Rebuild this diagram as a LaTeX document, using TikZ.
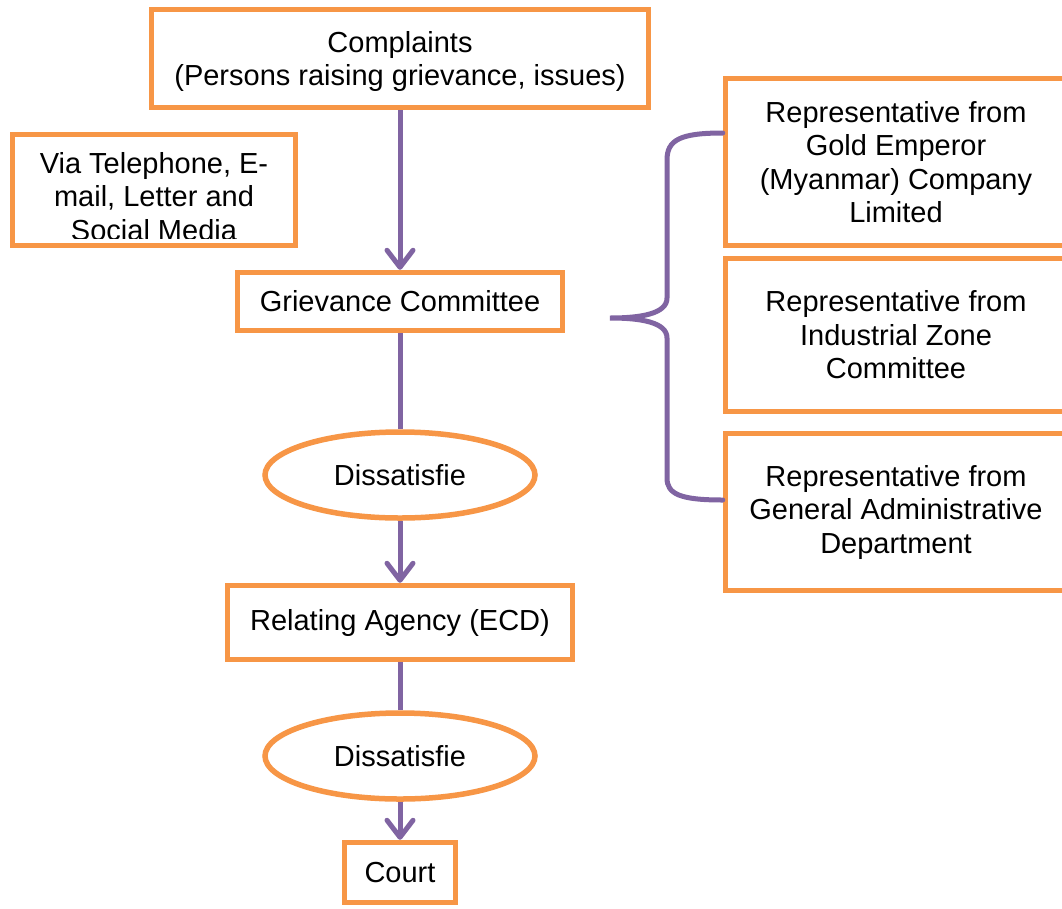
\documentclass[tikz,border=0pt]{standalone}
\usepackage{fontspec}
\setmainfont{Liberation Sans}
\usetikzlibrary{shapes.geometric,arrows.meta}
\definecolor{boxorange}{HTML}{F79646}
\definecolor{linkpurple}{HTML}{8064A2}
\tikzset{
  box/.style={draw=boxorange, line width=5.5pt, fill=white, rectangle,
    inner sep=0pt, align=center, text=black},
  oval/.style={draw=boxorange, line width=5.5pt, fill=white, ellipse,
    inner sep=0pt, align=center, text=black},
  link/.style={draw=linkpurple, line width=5pt},
  flow/.style={link, -{Straight Barb[length=17pt,width=26pt,line cap=round,round]}},
  bracket/.style={draw=linkpurple, line width=5pt, line cap=round},
}
\begin{document}
\begin{tikzpicture}[x=1pt, y=-1pt, font=\fontsize{29}{33.5}\selectfont]
\useasboundingbox (0,0) rectangle (1062,908);
\fill[white] (0,0) rectangle (1062,908);

% main flow, all centred on one vertical
\node[box, minimum width=497pt, minimum height=98pt] (complaints) at (400,58.5)
  {\raisebox{-4pt}[\height][\depth]{\begin{tabular}{@{}c@{}}Complaints\\(Persons raising grievance, issues)\end{tabular}}};
\node[box, minimum width=325pt, minimum height=58pt] (grievance) at (400,301.5)
  {Grievance Committee};
\node[oval, minimum width=270pt, minimum height=86pt] (diss1) at (400,475)
  {Dissatisfie};
\node[box, minimum width=345pt, minimum height=74pt] (agency) at (400,622.5)
  {Relating Agency (ECD)};
\node[oval, minimum width=270pt, minimum height=86pt] (diss2) at (400,756)
  {Dissatisfie};
\node[box, minimum width=111pt, minimum height=60pt] (court) at (400,872.5)
  {Court};

% channels box, text cut off at the lower inner edge
\node[box, minimum width=283pt, minimum height=111pt] (viabox) at (154,190) {};
\begin{scope}
  \clip (14,136) rectangle (294,238);
  \node[align=center, inner sep=0pt, anchor=north] (viatext) at (154,152)
    {Via Telephone, E-\\mail, Letter and\\Social Media};
\end{scope}

% committee members
\node[box, minimum width=341pt, minimum height=167pt] (rep1) at (896,162)
  {Representative from\\Gold Emperor\\(Myanmar) Company\\Limited};
\node[box, minimum width=341pt, minimum height=153pt] (rep2) at (896,335)
  {Representative from\\Industrial Zone\\Committee};
\node[box, minimum width=341pt, minimum height=157pt] (rep3) at (896,512)
  {Representative from\\General Administrative\\Department};

% connectors
\draw[flow] (complaints.south) -- (grievance.north);
\draw[link] (grievance.south) -- (diss1.north);
\draw[flow] (diss1.south) -- (agency.north);
\draw[link] (agency.south) -- (diss2.north);
\draw[flow] (diss2.south) -- (court.north);

% brace grouping the members
\coordinate (braceTop) at (rep1.west |- 0,133);
\coordinate (braceBot) at (rep3.west |- 0,500);
\coordinate (braceTip) at (610,318);
\draw[bracket] (braceTop)
  .. controls (680,133) and (667,140) .. (667,160)
  -- (667,298)
  .. controls (667,314) and (640,318) .. (braceTip)
  .. controls (640,318) and (667,322) .. (667,338)
  -- (667,478)
  .. controls (667,494) and (680,500) .. (braceBot);
\end{tikzpicture}
\end{document}
